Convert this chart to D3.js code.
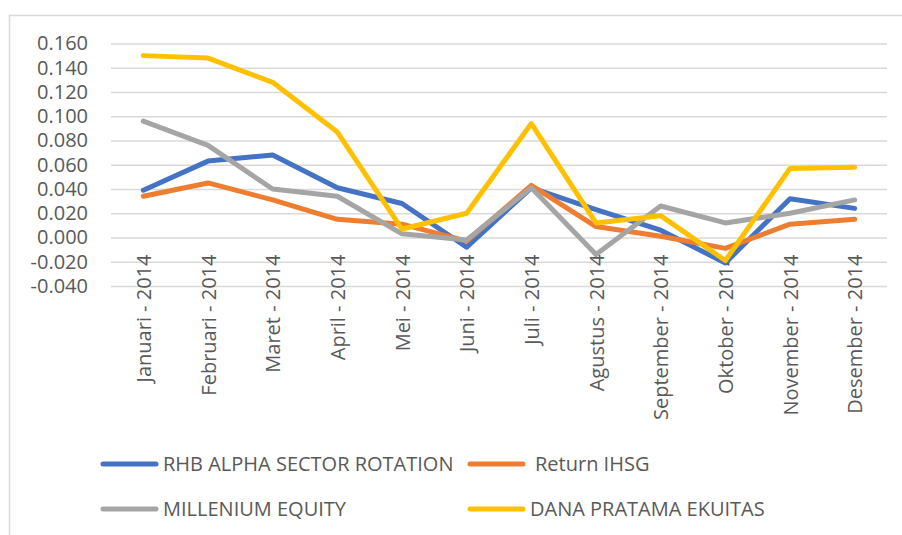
<!DOCTYPE html>
<html>
	<head>
		<meta charset="utf-8">
		<script src="https://d3js.org/d3.v7.min.js"></script>
		<style>
			body { margin: 0; background: #fff; }
			svg text { font-family: "Open Sans", sans-serif; fill: #595959; }
		</style>
	</head>
	<body>
		<svg id="chart" width="902" height="535"></svg>

		<script>
			var months = ['Januari - 2014', 'Februari - 2014', 'Maret - 2014', 'April - 2014', 'Mei - 2014', 'Juni - 2014',
				'Juli - 2014', 'Agustus - 2014', 'September - 2014', 'Oktober - 2014', 'November - 2014', 'Desember - 2014'];

			var rhb       = [0.039, 0.063, 0.068, 0.041, 0.028, -0.008, 0.041, 0.023, 0.006, -0.021, 0.032, 0.024];
			var ihsg      = [0.034, 0.045, 0.031, 0.015, 0.011, -0.003, 0.043, 0.009, 0.001, -0.009, 0.011, 0.015];
			var millenium = [0.096, 0.076, 0.040, 0.034, 0.003, -0.002, 0.041, -0.014, 0.026, 0.012, 0.020, 0.031];
			var danaPratama = [0.150, 0.148, 0.128, 0.087, 0.007, 0.020, 0.094, 0.012, 0.018, -0.019, 0.057, 0.058];

			var seriesNames = ['RHB ALPHA SECTOR ROTATION', 'Return IHSG', 'MILLENIUM EQUITY', 'DANA PRATAMA EKUITAS'];
			var seriesValues = [rhb, ihsg, millenium, danaPratama];
			var colors = ['#4472C4', '#ED7D31', '#A5A5A5', '#FFC000'];

			var yTicks = [-0.04, -0.02, 0, 0.02, 0.04, 0.06, 0.08, 0.10, 0.12, 0.14, 0.16];

			var svg = d3.select('#chart');

			// chart frame (cut off at right/bottom like the screenshot)
			svg.append('rect')
				.attr('x', 9.5).attr('y', 15.5)
				.attr('width', 1000).attr('height', 1000)
				.attr('fill', 'none')
				.attr('stroke', '#d9d9d9')
				.attr('stroke-width', 1.5);

			var plotLeft = 111, plotRight = 887, plotTop = 43.5, plotBottom = 286;

			var x = d3.scalePoint()
				.domain(months)
				.range([plotLeft, plotRight])
				.padding(0.5);

			var y = d3.scaleLinear()
				.domain([-0.04, 0.16])
				.range([plotBottom, plotTop]);

			var fmt = d3.formatLocale({decimal: '.', thousands: ',', grouping: [3], currency: ['', ''], minus: '-'}).format('.3f');

			var yAxis = svg.append('g')
				.attr('transform', 'translate(' + plotLeft + ',0)')
				.call(d3.axisLeft(y).tickValues(yTicks).tickFormat(fmt).tickSize(-(plotRight - plotLeft)).tickPadding(23));
			yAxis.select('.domain').remove();
			yAxis.selectAll('.tick line').attr('stroke', '#d9d9d9').attr('stroke-width', 1.5);
			yAxis.selectAll('.tick text').style('font-size', '20px').attr('fill', '#595959');

			var xAxis = svg.append('g')
				.attr('transform', 'translate(0,' + y(0) + ')')
				.call(d3.axisBottom(x).tickSize(0).tickPadding(0));
			xAxis.select('.domain').remove();
			xAxis.selectAll('.tick text')
				.style('font-size', '20px')
				.attr('fill', '#595959')
				.attr('text-anchor', 'end')
				.attr('transform', 'rotate(-90)')
				.attr('x', -17)
				.attr('y', 0)
				.attr('dy', '0.35em');

			var line = d3.line()
				.x(function(d, i) { return x(months[i]); })
				.y(function(d) { return y(d); });

			svg.append('g')
				.selectAll('path')
				.data(seriesValues)
				.enter()
				.append('path')
				.attr('d', line)
				.attr('fill', 'none')
				.attr('stroke', function(d, i) { return colors[i]; })
				.attr('stroke-width', 5)
				.attr('stroke-linejoin', 'round')
				.attr('stroke-linecap', 'round');

			// legend, 2 x 2
			var legendPos = [[103, 464], [470, 464], [103, 509], [470, 509]];
			var textOffset = [60, 65, 60, 60];

			var legend = svg.append('g')
				.selectAll('g')
				.data(seriesNames)
				.enter()
				.append('g')
				.attr('transform', function(d, i) { return 'translate(' + legendPos[i][0] + ',' + legendPos[i][1] + ')'; });

			legend.append('line')
				.attr('x1', 0).attr('x2', 53)
				.attr('stroke', function(d, i) { return colors[i]; })
				.attr('stroke-width', 5)
				.attr('stroke-linecap', 'round');

			legend.append('text')
				.attr('x', function(d, i) { return textOffset[i]; })
				.attr('dy', '0.35em')
				.style('font-size', '20px')
				.text(function(d) { return d; });
		</script>
	</body>
</html>
